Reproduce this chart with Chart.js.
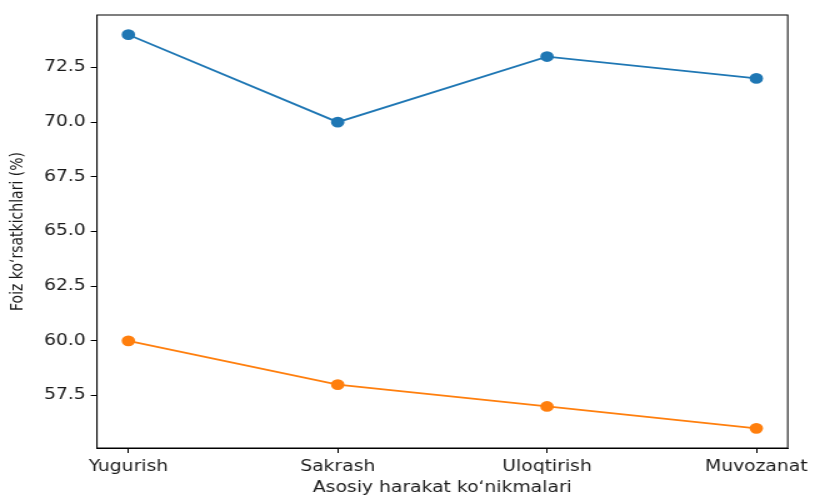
<!DOCTYPE html>
<html>
<head>
<meta charset="utf-8">
<script src="https://cdn.jsdelivr.net/npm/chart.js@4"></script>
<style>
  html, body { margin: 0; padding: 0; background: #fff; overflow: hidden; }
  /* the reference is stretched sideways, so the canvas is drawn narrower and scaled */
  #wrap { width: 652px; height: 497px; transform: scaleX(1.25); transform-origin: 0 0; }
</style>
</head>
<body>
<div id="wrap"><canvas id="lineChart" width="652" height="497"></canvas></div>
<script>
const categories = ["Yugurish", "Sakrash", "Uloqtirish", "Muvozanat"];
const seriesA = [74, 70, 73, 72];
const seriesB = [60, 58, 57, 56];
const yTicks = [57.5, 60, 62.5, 65, 67.5, 70, 72.5];
const xTicks = [0, 1, 2, 3];

const toPoints = (values) => values.map((v, i) => ({ x: i, y: v }));

const frameBox = {
  id: "frameBox",
  afterDraw: function (chart) {
    const a = chart.chartArea;
    const ctx = chart.ctx;
    ctx.save();
    ctx.strokeStyle = "#000";
    ctx.lineWidth = 1;
    ctx.strokeRect(a.left, a.top, a.right - a.left, a.bottom - a.top);
    ctx.restore();
  },
};

const ctx = document.getElementById("lineChart").getContext("2d");
new Chart(ctx, {
  type: "line",
  data: {
    datasets: [
      {
        data: toPoints(seriesA),
        borderColor: "#1f77b4",
        backgroundColor: "#1f77b4",
        pointBackgroundColor: "#1f77b4",
        pointBorderColor: "#1f77b4",
        borderWidth: 1.8,
        pointRadius: 4.5,
        tension: 0,
      },
      {
        data: toPoints(seriesB),
        borderColor: "#ff7f0e",
        backgroundColor: "#ff7f0e",
        pointBackgroundColor: "#ff7f0e",
        pointBorderColor: "#ff7f0e",
        borderWidth: 1.8,
        pointRadius: 4.5,
        tension: 0,
      },
    ],
  },
  options: {
    responsive: false,
    animation: false,
    layout: {
      padding: { left: 0, top: 15, right: 19, bottom: 0 },
    },
    plugins: {
      legend: { display: false },
      tooltip: { enabled: false },
    },
    scales: {
      x: {
        type: "linear",
        min: -0.15,
        max: 3.15,
        afterBuildTicks: function (scale) {
          scale.ticks = xTicks.map((v) => ({ value: v }));
        },
        afterFit: function (scale) {
          scale.height = 49;
        },
        ticks: {
          color: "#1a1a1a",
          padding: 5,
          maxRotation: 0,
          font: { family: "DejaVu Sans", size: 15 },
          callback: function (value) {
            return categories[value];
          },
        },
        grid: {
          drawOnChartArea: false,
          drawTicks: true,
          tickLength: 5,
          color: "#000",
        },
        border: { display: true, color: "#000" },
        title: {
          display: true,
          text: "Asosiy harakat koʻnikmalari",
          color: "#1a1a1a",
          font: { family: "DejaVu Sans", size: 15 },
          padding: { top: 0, bottom: 0 },
        },
      },
      y: {
        min: 55.1,
        max: 74.9,
        afterBuildTicks: function (scale) {
          scale.ticks = yTicks.map((v) => ({ value: v }));
        },
        afterFit: function (scale) {
          scale.width = 77.6;
        },
        ticks: {
          color: "#1a1a1a",
          padding: 4,
          font: { family: "DejaVu Sans", size: 15 },
          callback: function (value) {
            return value.toFixed(1);
          },
        },
        grid: {
          drawOnChartArea: false,
          drawTicks: true,
          tickLength: 5,
          color: "#000",
        },
        border: { display: true, color: "#000" },
        title: {
          display: true,
          text: "Foiz koʻrsatkichlari (%)",
          color: "#1a1a1a",
          font: { family: "DejaVu Sans", size: 14 },
          padding: { top: 6, bottom: 0 },
        },
      },
    },
  },
  plugins: [frameBox],
});
</script>
</body>
</html>
